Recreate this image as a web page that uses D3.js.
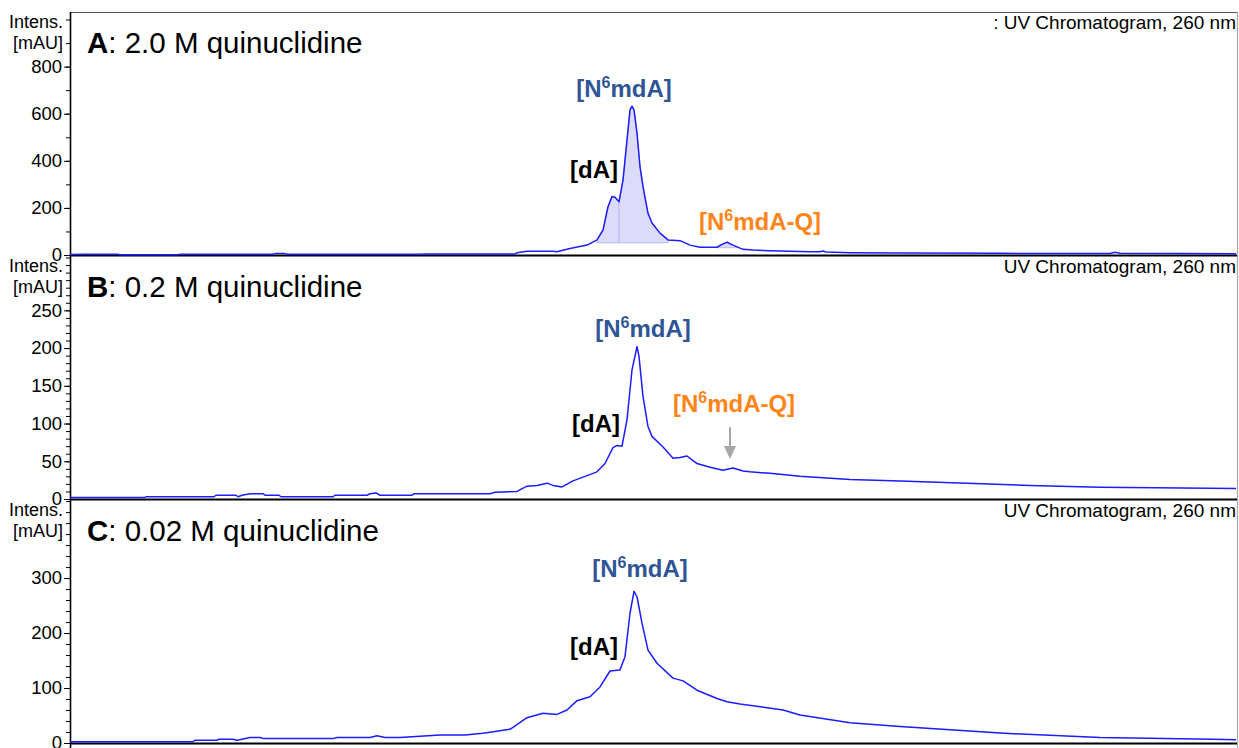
<!DOCTYPE html>
<html>
<head>
<meta charset="utf-8">
<script src="https://cdn.jsdelivr.net/npm/d3@7"></script>
<style>
  body { margin: 0; background: #fff; }
  svg { display: block; }
  text { font-family: Arial, "Liberation Sans", sans-serif; }
</style>
</head>
<body>
<div id="chart"></div>
<script>
////////////////////////////////////////////////////////////////////////
// Data (time in min, intensity in mAU)

let timeA = [0, 0.3, 0.94, 1.0, 2.16, 2.2, 4.06, 4.1, 4.3, 4.34, 7.0, 7.1, 8.9, 8.94,
  9.14, 9.66, 9.74, 10.0, 10.34, 10.54, 10.66, 10.76, 10.84, 10.9, 10.98, 11.06, 11.14,
  11.2, 11.24, 11.28, 11.34, 11.4, 11.46, 11.56, 11.64, 11.8, 11.96, 12.2, 12.4, 12.6,
  12.94, 13.04, 13.14, 13.26, 13.46, 13.66, 14.0, 14.8, 15.0, 15.06, 15.12, 15.6, 16.6,
  18.6, 20.8, 20.9, 21.0, 23.32];
let intensA = [2, 3, 3, 1, 1, 3, 3, 6, 6, 3, 3, 4, 4, 10,
  16, 16, 14, 28, 42, 64, 106, 205, 248, 245, 226, 318, 488,
  616, 632, 616, 518, 375, 290, 177, 136, 93, 64, 61, 42, 33,
  33, 45, 54, 42, 24, 21, 18, 14, 14, 17, 13, 10, 8,
  7, 6, 12, 7, 5];

let timeB = [0, 1.5, 1.52, 2.88, 2.92, 3.32, 3.36, 3.44, 3.6, 3.86, 3.9, 4.18, 4.22,
  5.26, 5.3, 5.94, 6.0, 6.12, 6.2, 6.84, 6.88, 8.4, 8.5, 8.94, 9.14, 9.34, 9.54, 9.66,
  9.84, 10.06, 10.26, 10.54, 10.7, 10.86, 10.94, 11.04, 11.14, 11.24, 11.34, 11.38,
  11.46, 11.56, 11.64, 11.86, 12.06, 12.2, 12.34, 12.54, 12.8, 13.06, 13.26, 13.46,
  13.6, 14.0, 14.6, 15.6, 16.6, 17.94, 19.2, 20.6, 23.32];
let intensB = [2, 2, 3, 3, 5, 5, 3, 5, 7, 7, 5, 5, 3,
  3, 5, 5, 7, 8, 5, 5, 7, 7, 9, 10, 17, 18, 21, 18,
  16, 24, 29, 36, 47, 68, 71, 70, 105, 171, 202, 189,
  136, 96, 83, 69, 54, 55, 57, 47, 42, 38, 41, 37,
  36, 34, 30, 26, 24, 21, 18, 15.5, 14];

let timeC = [0, 2.46, 2.5, 2.94, 2.98, 3.26, 3.34, 3.44, 3.6, 3.8, 3.88, 5.26, 5.34,
  6.0, 6.14, 6.3, 6.6, 7.4, 7.9, 8.26, 8.8, 9.14, 9.46, 9.74, 9.94, 10.14, 10.4, 10.6,
  10.8, 11.0, 11.1, 11.2, 11.28, 11.34, 11.44, 11.56, 11.74, 12.06, 12.26, 12.54,
  12.94, 13.14, 13.4, 14.26, 14.6, 15.6, 16.6, 18.6, 20.6, 22.86, 23.32];
let intensC = [2.4, 2.4, 5, 5, 7, 7, 5, 7, 10, 10, 8, 8, 10,
  10, 13, 10, 10, 14.5, 14.5, 17.6, 25, 46, 54, 52, 60, 77, 84, 102,
  131, 133, 157, 236, 276, 266, 218, 169, 145, 118, 113, 96,
  81, 75, 71, 60, 51, 37, 30, 18, 10, 7, 6];

// integrated peaks in trace A (start, end, baseline intensity)
let peakStartA = [10.54, 10.98, 12.94];
let peakEndA = [10.98, 11.96, 13.36];
let peakBaseA = [52, 52, 31];

// axis tick labels
let ticksA = [0, 200, 400, 600, 800];
let ticksB = [0, 50, 100, 150, 200, 250];
let ticksC = [0, 100, 200, 300];

////////////////////////////////////////////////////////////////////////
// Layout

let width = 1239;
let height = 748;
let left = 70;
let right = 1237;
let panelH = 243;

let blue = "#1c1cff";
let navy = "#2f5597";
let orange = "#ff8417";

let svg = d3.select("#chart")
  .append("svg")
  .attr("width", width).attr("height", height);

let xScale = d3.scaleLinear()
  .domain([0, 23.34])
  .range([left, right]);

let panels = [
  { letter: "A", title: ": 2.0 M quinuclidine", times: timeA, values: intensA,
    top: 12, yMax: 1032, ticks: ticksA, minor: 100, uvPrefix: ": ",
    labels: [
      { t: 11.08, v: 671, pre: "[N", sup: "6", post: "mdA]", color: navy },
      { t: 10.48, v: 327, pre: "[dA]", color: "#000" },
      { t: 13.8, v: 106, pre: "[N", sup: "6", post: "mdA-Q]", color: orange }
    ] },
  { letter: "B", title: ": 0.2 M quinuclidine", times: timeB, values: intensB,
    top: 256, yMax: 322, ticks: ticksB, minor: 10, uvPrefix: "",
    labels: [
      { t: 11.46, v: 215, pre: "[N", sup: "6", post: "mdA]", color: navy },
      { t: 10.52, v: 89, pre: "[dA]", color: "#000" },
      { t: 13.28, v: 115, pre: "[N", sup: "6", post: "mdA-Q]", color: orange }
    ],
    arrow: { t: 13.2, from: 95, to: 53 } },
  { letter: "C", title: ": 0.02 M quinuclidine", times: timeC, values: intensC,
    top: 500, yMax: 442, ticks: ticksC, minor: 20, uvPrefix: "",
    labels: [
      { t: 11.4, v: 302, pre: "[N", sup: "6", post: "mdA]", color: navy },
      { t: 10.48, v: 160, pre: "[dA]", color: "#000" }
    ] }
];

// linear interpolation in a trace
function interp(times, values, t) {
  let i = d3.bisectRight(times, t);
  if (i <= 0) return values[0];
  if (i >= times.length) return values[values.length - 1];
  let f = (t - times[i - 1]) / (times[i] - times[i - 1]);
  return values[i - 1] + f * (values[i] - values[i - 1]);
}

// outer frame: top and right border
svg.append("line")
  .attr("x1", left).attr("x2", right)
  .attr("y1", 12.5).attr("y2", 12.5)
  .attr("stroke", "#555").attr("stroke-width", 1);
svg.append("line")
  .attr("x1", right + 0.5).attr("x2", right + 0.5)
  .attr("y1", 12).attr("y2", height)
  .attr("stroke", "#a8a8a8").attr("stroke-width", 1.2);

panels.forEach(function(p, idx) {
  let bottom = p.top + panelH;
  let g = svg.append("g");

  let yScale = d3.scaleLinear()
    .domain([0, p.yMax])
    .range([bottom, p.top]);

  // clip region for the trace
  g.append("clipPath").attr("id", "clip" + idx)
    .append("rect")
    .attr("x", left).attr("y", p.top)
    .attr("width", right - left).attr("height", panelH + 2);

  // integrated peak areas (panel A only)
  if (p.letter === "A") {
    peakStartA.forEach(function(s, k) {
      let e = peakEndA[k];
      let pts = [{ t: s, v: interp(p.times, p.values, s) }];
      p.times.forEach(function(t, j) {
        if (t > s && t < e) pts.push({ t: t, v: p.values[j] });
      });
      pts.push({ t: e, v: interp(p.times, p.values, e) });
      let area = d3.area()
        .x(function(d) { return xScale(d.t); })
        .y0(yScale(peakBaseA[k]))
        .y1(function(d) { return yScale(d.v); });
      g.append("path")
        .datum(pts)
        .attr("d", area)
        .attr("fill", "#dcdcfa")
        .attr("stroke", "#b9b9f2")
        .attr("stroke-width", 1);
    });
  }

  // y axis: minor and major ticks
  let minorTicks = d3.range(0, p.yMax + 0.001, p.minor);
  g.append("g")
    .attr("transform", "translate(" + left + ",0)")
    .call(d3.axisLeft(yScale).tickValues(minorTicks).tickSize(4).tickFormat(""))
    .call(function(a) { a.select(".domain").remove(); })
    .selectAll("line").attr("stroke", "#000");

  let major = g.append("g")
    .attr("transform", "translate(" + left + ",0)")
    .call(d3.axisLeft(yScale).tickValues(p.ticks).tickSize(6).tickPadding(2));
  major.select(".domain").remove();
  major.selectAll("line").attr("stroke", "#000");
  major.selectAll("text")
    .attr("font-size", 18.5)
    .attr("font-family", "Arial, 'Liberation Sans', sans-serif")
    .attr("fill", "#000");

  // axis line and bottom separator
  g.append("line")
    .attr("x1", left + 0.5).attr("x2", left + 0.5)
    .attr("y1", p.top).attr("y2", idx === panels.length - 1 ? height : bottom + 1)
    .attr("stroke", "#000").attr("stroke-width", 1.6);
  g.append("line")
    .attr("x1", left).attr("x2", right)
    .attr("y1", bottom + 0.5).attr("y2", bottom + 0.5)
    .attr("stroke", "#000").attr("stroke-width", 2);

  // axis caption
  g.append("text")
    .attr("x", 63).attr("y", p.top + 16)
    .attr("text-anchor", "end").attr("font-size", 18)
    .text("Intens.");
  g.append("text")
    .attr("x", 63).attr("y", p.top + 37)
    .attr("text-anchor", "end").attr("font-size", 18)
    .text("[mAU]");

  // panel title
  let title = g.append("text")
    .attr("x", 87).attr("y", p.top + 41)
    .attr("font-size", 29.5);
  title.append("tspan").attr("font-weight", "bold").text(p.letter);
  title.append("tspan").text(p.title);

  // trace name, top right
  g.append("text")
    .attr("x", right - 1).attr("y", p.top + 17)
    .attr("text-anchor", "end").attr("font-size", 19)
    .text(p.uvPrefix + "UV Chromatogram, 260 nm");

  // the chromatogram trace
  let line = d3.line()
    .x(function(d, i) { return xScale(p.times[i]); })
    .y(function(d) { return yScale(d); });
  g.append("path")
    .datum(p.values)
    .attr("clip-path", "url(#clip" + idx + ")")
    .attr("d", line)
    .attr("fill", "none")
    .attr("stroke", blue)
    .attr("stroke-width", 1.5)
    .attr("stroke-linejoin", "round");

  // peak labels
  p.labels.forEach(function(l) {
    let t = g.append("text")
      .attr("x", xScale(l.t)).attr("y", yScale(l.v))
      .attr("text-anchor", "middle")
      .attr("font-size", 24).attr("font-weight", "bold")
      .attr("fill", l.color);
    t.append("tspan").text(l.pre);
    if (l.sup) {
      t.append("tspan").attr("font-size", 16).attr("dy", -9).text(l.sup);
      t.append("tspan").attr("dy", 9).text(l.post);
    }
  });

  // grey arrow pointing at the minor product
  if (p.arrow) {
    let ax = xScale(p.arrow.t);
    let y1 = yScale(p.arrow.from);
    let y2 = yScale(p.arrow.to);
    g.append("line")
      .attr("x1", ax).attr("x2", ax)
      .attr("y1", y1).attr("y2", y2 - 11)
      .attr("stroke", "#a6a6a6").attr("stroke-width", 2);
    g.append("path")
      .attr("d", "M" + (ax - 6) + "," + (y2 - 13) + "L" + (ax + 6) + "," + (y2 - 13) +
        "L" + ax + "," + y2 + "Z")
      .attr("fill", "#a6a6a6");
  }
});
</script>
</body>
</html>
